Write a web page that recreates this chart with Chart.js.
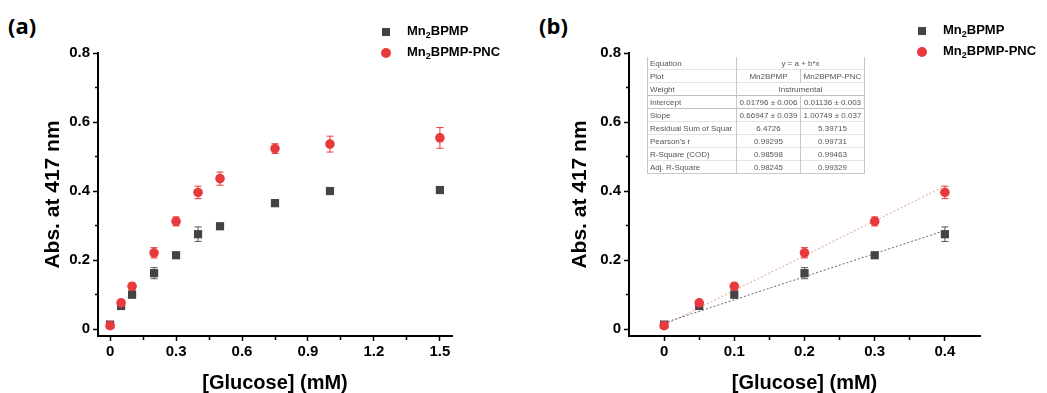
<!DOCTYPE html>
<html>
<head>
<meta charset="utf-8">
<script src="https://cdn.jsdelivr.net/npm/chart.js@4.4.0/dist/chart.umd.min.js"></script>
<style>
  body { margin: 0; width: 1047px; height: 393px; background: #fff; position: relative; overflow: hidden; }
  .panel { position: absolute; top: 0; }
  .tag { position: absolute; top: 10px; font: bold 22px "Open Sans", sans-serif; color: #000; }
  .leg { position: absolute; font: bold 13px "Liberation Sans", Arial, sans-serif; color: #000; white-space: nowrap; line-height: 14px; }
  .leg sub { font-size: 9px; vertical-align: -3px; line-height: 0; }
  .mk { position: absolute; }
  .sq { width: 8px; height: 8px; background: #444; }
  .ci { width: 10px; height: 10px; border-radius: 50%; background: #e8393d; }
  table.fit { position: absolute; left: 647px; top: 57px; width: 218px; border-collapse: collapse;
    font: 8px "Liberation Sans", Arial, sans-serif; color: #555; }
  table.fit td { height: 12px; padding: 0 2px; border-left: 1px solid #c8c8c8; border-right: 1px solid #c8c8c8;
    border-top: 1px solid #e4e4e4; white-space: nowrap; text-align: center; }
  table.fit td:first-child { text-align: left; width: 84px; }
  table.fit tr:first-child td { border-top: none; }
  table.fit tr:last-child td { border-bottom: 1px solid #c8c8c8; }
  table.fit tr.sep td { border-top: 1px solid #c0c0c0; }
</style>
</head>
<body>
<div class="tag" style="left:8px">(a)</div>
<div class="tag" style="left:539px">(b)</div>

<div class="panel" style="left:0;width:523px;height:393px"><canvas id="chartA" width="523" height="393"></canvas></div>
<div class="panel" style="left:523px;width:524px;height:393px"><canvas id="chartB" width="524" height="393"></canvas></div>

<div class="mk sq" style="left:382px;top:28px"></div>
<div class="leg" style="left:407px;top:24px">Mn<sub>2</sub>BPMP</div>
<div class="mk ci" style="left:381px;top:48px"></div>
<div class="leg" style="left:407px;top:45px">Mn<sub>2</sub>BPMP-PNC</div>

<div class="mk sq" style="left:918px;top:27px"></div>
<div class="leg" style="left:943px;top:23px">Mn<sub>2</sub>BPMP</div>
<div class="mk ci" style="left:917px;top:47px"></div>
<div class="leg" style="left:943px;top:44px">Mn<sub>2</sub>BPMP-PNC</div>

<table class="fit">
  <tr><td>Equation</td><td colspan="2">y = a + b*x</td></tr>
  <tr><td>Plot</td><td>Mn2BPMP</td><td>Mn2BPMP-PNC</td></tr>
  <tr><td>Weight</td><td colspan="2">Instrumental</td></tr>
  <tr class="sep"><td>Intercept</td><td>0.01796 ± 0.006</td><td>0.01136 ± 0.003</td></tr>
  <tr class="sep"><td>Slope</td><td>0.66947 ± 0.039</td><td>1.00749 ± 0.037</td></tr>
  <tr><td>Residual Sum of Squar</td><td>6.4726</td><td>5.39715</td></tr>
  <tr><td>Pearson's r</td><td>0.99295</td><td>0.99731</td></tr>
  <tr><td>R-Square (COD)</td><td>0.98598</td><td>0.99463</td></tr>
  <tr><td>Adj. R-Square</td><td>0.98245</td><td>0.99329</td></tr>
</table>

<script>
// glucose concentrations (mM) and absorbance at 417 nm
const glucose = [0, 0.05, 0.1, 0.2, 0.3, 0.4, 0.5, 0.75, 1.0, 1.5];
const bpmp    = [0.013, 0.067, 0.100, 0.162, 0.214, 0.275, 0.298, 0.365, 0.400, 0.403];
const bpmpErr = [0.005, 0.004, 0.010, 0.016, 0.006, 0.021, 0.008, 0.010, 0.005, 0.006];
const pnc     = [0.010, 0.076, 0.124, 0.221, 0.312, 0.396, 0.436, 0.523, 0.536, 0.554];
const pncErr  = [0.006, 0.008, 0.010, 0.015, 0.013, 0.018, 0.019, 0.014, 0.023, 0.030];

// linear fits (panel b), order: Mn2BPMP, Mn2BPMP-PNC
const fitIntercept = [0.01796, 0.01136];
const fitSlope = [0.66947, 1.00749];
const linearMax = 0.4;

// tick labels
const xTicksA = [0, 0.3, 0.6, 0.9, 1.2, 1.5];
const xTicksB = [0, 0.1, 0.2, 0.3, 0.4];
const yTicks = [0, 0.2, 0.4, 0.6, 0.8];

const FONT = '"Liberation Sans", Arial, sans-serif';
const BLACK = '#444444', RED = '#e8393d';

const isMajor = (v, majors) => majors.some(m => Math.abs(m - v) < 1e-9);
const withMinor = majors => {
  const out = [];
  majors.forEach((m, i) => {
    out.push(m);
    if (i < majors.length - 1) out.push((m + majors[i + 1]) / 2);
  });
  return out;
};
const fmt = v => Math.abs(v) < 1e-9 ? '0' : v.toFixed(1);

const points = (ys, errs, maxX) =>
  glucose.map((x, i) => ({ x: x, y: ys[i], e: errs[i] })).filter(p => p.x <= maxX + 1e-9);

const errorBars = {
  id: 'errorBars',
  beforeDatasetDraw(chart, args) {
    const ds = chart.data.datasets[args.index];
    if (!ds.errColor) return;
    const { ctx, scales: { x, y } } = chart;
    ctx.save();
    ctx.strokeStyle = ds.errColor;
    ctx.lineWidth = 1;
    ds.data.forEach(p => {
      const px = x.getPixelForValue(p.x);
      const top = y.getPixelForValue(p.y + p.e), bot = y.getPixelForValue(p.y - p.e);
      ctx.beginPath();
      ctx.moveTo(px, top); ctx.lineTo(px, bot);
      ctx.moveTo(px - 3.5, top); ctx.lineTo(px + 3.5, top);
      ctx.moveTo(px - 3.5, bot); ctx.lineTo(px + 3.5, bot);
      ctx.stroke();
    });
    ctx.restore();
  }
};

function scales(xMajor, xMin, xMax, yWidth, yTitlePad) {
  const tickFont = { family: FONT, size: 15, weight: 'bold' };
  return {
    x: {
      type: 'linear', min: xMin, max: xMax,
      afterBuildTicks: s => { s.ticks = withMinor(xMajor).map(v => ({ value: v })); },
      afterFit: s => { s.height = 57; },
      border: { color: '#000', width: 2 },
      grid: {
        drawOnChartArea: false, tickLength: 5, tickColor: '#000', tickWidth: 1.5,
        tickBorderDash: c => (c.tick && isMajor(c.tick.value, xMajor)) ? [] : [3, 20]
      },
      ticks: { color: '#000', font: tickFont, padding: 2, maxRotation: 0, autoSkip: false,
        callback: v => isMajor(v, xMajor) ? fmt(v) : '' },
      title: { display: true, text: '[Glucose] (mM)', color: '#000',
        font: { family: FONT, size: 20, weight: 'bold', lineHeight: 1 }, padding: { top: 0, bottom: 0 } }
    },
    y: {
      type: 'linear', min: -0.02, max: 0.8,
      afterBuildTicks: s => { s.ticks = withMinor(yTicks).map(v => ({ value: v })); },
      afterFit: s => { s.width = yWidth; },
      border: { color: '#000', width: 2 },
      grid: {
        drawOnChartArea: false, tickLength: 5, tickColor: '#000', tickWidth: 1.5,
        tickBorderDash: c => (c.tick && isMajor(c.tick.value, yTicks)) ? [] : [0, 2, 3, 20]
      },
      ticks: { color: '#000', font: tickFont, padding: 3, autoSkip: false,
        callback: v => isMajor(v, yTicks) ? fmt(v) : '' },
      title: { display: true, text: 'Abs. at 417 nm', color: '#000',
        font: { family: FONT, size: 21, weight: 'bold', lineHeight: 1 }, padding: { top: yTitlePad, bottom: 0 } }
    }
  };
}

function markerSets(maxX) {
  return [
    { label: 'Mn₂BPMP', data: points(bpmp, bpmpErr, maxX), pointStyle: 'rect', pointRadius: 5.8,
      backgroundColor: BLACK, borderColor: BLACK, borderWidth: 0, errColor: '#555', order: 1 },
    { label: 'Mn₂BPMP-PNC', data: points(pnc, pncErr, maxX), pointStyle: 'circle', pointRadius: 4.8,
      backgroundColor: RED, borderColor: RED, borderWidth: 0, errColor: RED, order: 0 }
  ];
}

function fitLine(k, color) {
  const xs = glucose.filter(x => x <= linearMax + 1e-9);
  const x0 = xs[0], x1 = xs[xs.length - 1];
  return {
    label: 'fit ' + k, showLine: true, pointRadius: 0, borderWidth: 1, borderDash: [2, 2],
    borderColor: color, order: 3,
    data: [{ x: x0, y: fitIntercept[k] + fitSlope[k] * x0 }, { x: x1, y: fitIntercept[k] + fitSlope[k] * x1 }]
  };
}

const common = {
  responsive: false, animation: false,
  plugins: { legend: { display: false }, tooltip: { enabled: false } }
};

new Chart(document.getElementById('chartA'), {
  type: 'scatter',
  data: { datasets: markerSets(10) },
  options: Object.assign({}, common, {
    layout: { padding: { top: 53, right: 71, left: 0, bottom: 0 } },
    scales: scales(xTicksA, -0.055, 1.555, 98, 42.5)
  }),
  plugins: [errorBars]
});

new Chart(document.getElementById('chartB'), {
  type: 'scatter',
  data: { datasets: markerSets(linearMax).concat([fitLine(0, '#666'), fitLine(1, '#e39a9a')]) },
  options: Object.assign({}, common, {
    layout: { padding: { top: 53, right: 67, left: 0, bottom: 0 } },
    scales: scales(xTicksB, -0.05, 0.45, 106, 46.5)
  }),
  plugins: [errorBars]
});
</script>
</body>
</html>
